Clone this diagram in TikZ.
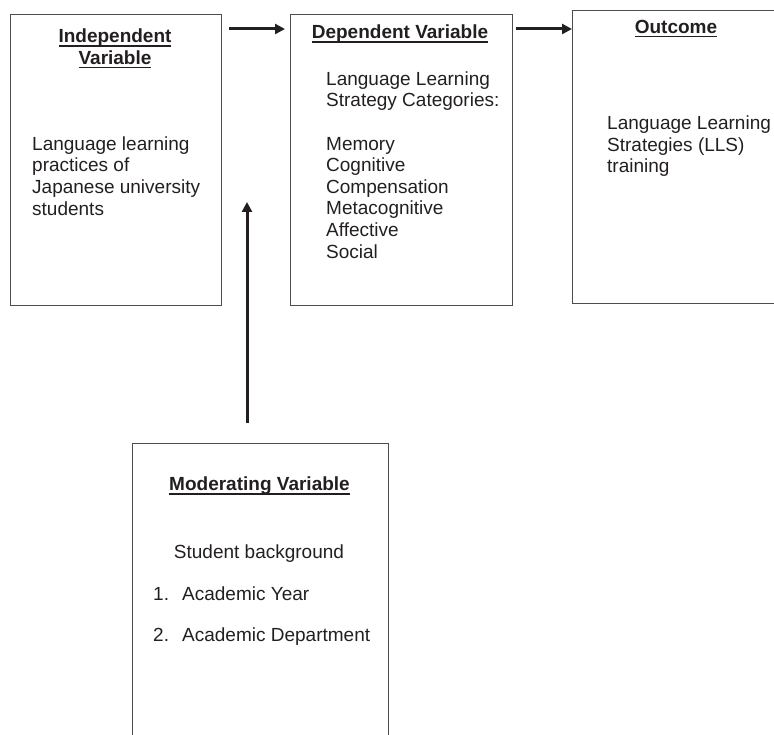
\documentclass[tikz,border=0pt]{standalone}
\usepackage{fontspec}
\setmainfont{Liberation Sans}
\usetikzlibrary{arrows.meta}

\definecolor{ink}{HTML}{231F20}
\newcommand{\fsz}{\fontsize{19pt}{21.6pt}\selectfont}
\newcommand{\ulin}[1]{\setbox0\hbox{#1}\rlap{\rule[-4pt]{\wd0}{1.5pt}}\box0}

\tikzset{
    varbox/.style = {draw=black!70, line width=0.9pt, inner sep=0pt, outer sep=0pt, anchor=north west},
    head/.style = {font=\fsz\bfseries, anchor=base},
    body/.style = {anchor=north west, inner sep=0pt, align=left},
    link/.style = {->, line width=3pt, draw=ink}
}

\begin{document}
\begin{tikzpicture}[x=1pt, y=-1pt, >={Triangle[length=10pt, width=10pt]}, font=\fsz, text=ink]
    \useasboundingbox (0,0) rectangle (774,735);
    \clip (0,0) rectangle (774,735);
    % boxes
    \node[varbox, minimum width=211pt, minimum height=291pt] (ind) at (10,14) {};
    \node[varbox, minimum width=222pt, minimum height=291pt] (dep) at (290,14) {};
    \node[varbox, minimum width=220pt, minimum height=293pt] (out) at (572,10) {};
    \node[varbox, minimum width=256pt, minimum height=320pt] (mod) at (132,443) {};
    % titles
    \node[head, anchor=north, align=center] (indT) at (115,23.9) {\strut\ulin{Independent}\\\ulin{Variable}};
    \node[head] (depT) at (400,39) {\ulin{Dependent Variable}};
    \node[head] (outT) at (676,33.5) {\ulin{Outcome}};
    \node[head] (modT) at (259.5,490.7) {\ulin{Moderating Variable}};
    % contents
    \node[body] (indB) at (32,134.9) {\strut Language learning\\practices of\\Japanese university\\students};
    \node[body] (depB) at (326,69.9) {\strut Language Learning\\Strategy Categories:\\[21.6pt]Memory\\Cognitive\\Compensation\\Metacognitive\\Affective\\Social};
    \node[body] (outB) at (607,114.2) {\strut Language Learning\\Strategies (LLS)\\training};
    \node[anchor=base] (modB) at (259,558.3) {Student background};
    \node[body] (modL) at (153,584.9) {\strut\makebox[29pt][l]{1.}Academic Year\\[20.1pt]\makebox[29pt][l]{2.}Academic Department};
    % arrows
    \coordinate (modTip) at (247,202);
    \draw[link] ([shift={(8,15)}]ind.north east) -- ([shift={(-5,15)}]dep.north west);
    \draw[link] ([shift={(4,15)}]dep.north east) -- ([shift={(0,19)}]out.north west);
    \draw[link] ([shift={(-13,-20)}]mod.north) -- (modTip);
\end{tikzpicture}
\end{document}
